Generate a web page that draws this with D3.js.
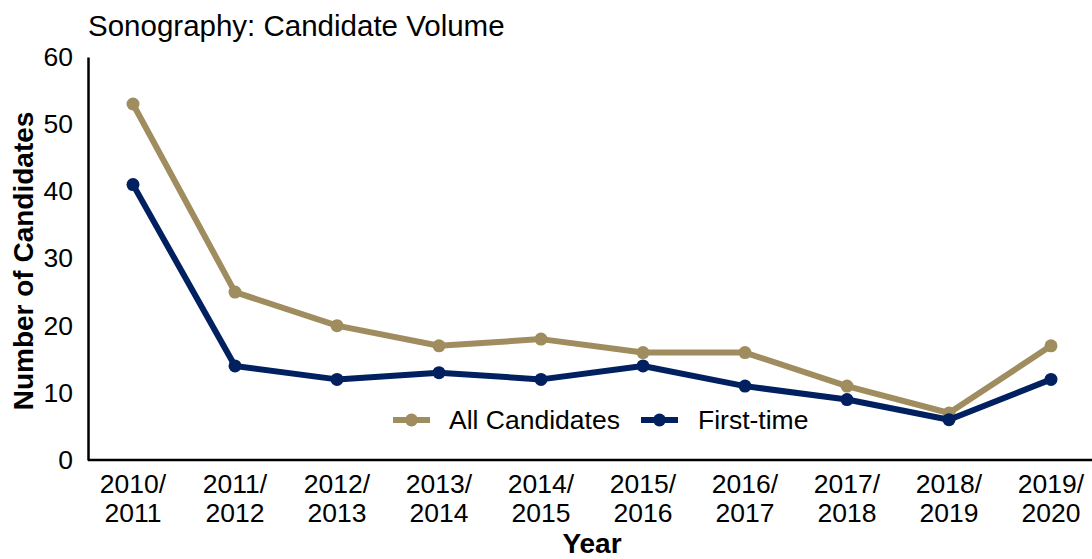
<!DOCTYPE html>
<html><head><meta charset="utf-8">
<script src="https://cdn.jsdelivr.net/npm/d3@7"></script>
<style>body{margin:0;background:#fff}svg{display:block;font-family:"Liberation Sans",Arial,sans-serif}</style>
</head><body><div id="chart"></div>
<script>
const categories = ["2010/2011","2011/2012","2012/2013","2013/2014","2014/2015","2015/2016","2016/2017","2017/2018","2018/2019","2019/2020"];
const allCandidates = [53,25,20,17,18,16,16,11,7,17];
const firstTime = [41,14,12,13,12,14,11,9,6,12];
const yTicks = [0,10,20,30,40,50,60];
const seriesNames = ["All Candidates","First-time"];
const colors = ["#a08d5f","#002060"];

const W=1092,H=559;
const svg=d3.select("#chart").append("svg").attr("width",W).attr("height",H);
const x=d3.scaleBand().domain(categories).range([82,1102]).padding(0);
const y=d3.scaleLinear().domain([0,60]).range([460,57]);
const cx=c=>x(c)+x.bandwidth()/2;

svg.append("text").attr("x",88).attr("y",36).attr("font-size",29.5).attr("fill","#000").text("Sonography: Candidate Volume");

// y axis
const ya=svg.append("g").attr("transform","translate(88,0)").call(d3.axisLeft(y).tickValues(yTicks).tickSize(0).tickPadding(15));
ya.select(".domain").attr("stroke","#000").attr("stroke-width",2.5);
ya.selectAll("text").attr("font-size",26.5).attr("fill","#000").attr("font-family","Liberation Sans, Arial, sans-serif");

// x axis
const xa=svg.append("g").attr("transform","translate(0,460)").call(d3.axisBottom(x).tickSize(0).tickPadding(0).tickFormat(""));
xa.select(".domain").attr("stroke","#000").attr("stroke-width",2.5).attr("d","M88,0H1092");
xa.selectAll(".tick").each(function(d){
  const parts=d.split("/");
  const t=d3.select(this).append("text").attr("fill","#000").attr("font-size",26.5).attr("text-anchor","middle").attr("font-family","Liberation Sans, Arial, sans-serif");
  t.append("tspan").attr("x",0).attr("y",33).text(parts[0]+"/");
  t.append("tspan").attr("x",0).attr("y",62).text(parts[1]);
});

svg.append("text").attr("transform","translate(33,261) rotate(-90)").attr("text-anchor","middle").attr("font-size",28).attr("font-weight","bold").text("Number of Candidates");
svg.append("text").attr("x",592).attr("y",553).attr("text-anchor","middle").attr("font-size",28).attr("font-weight","bold").text("Year");

const data=[allCandidates,firstTime];
const line=d3.line().x((d,i)=>cx(categories[i])).y(d=>y(d));
data.forEach((s,k)=>{
  svg.append("path").datum(s).attr("d",line).attr("fill","none").attr("stroke",colors[k]).attr("stroke-width",6).attr("stroke-linejoin","round");
  svg.selectAll(null).data(s).enter().append("circle").attr("cx",(d,i)=>cx(categories[i])).attr("cy",d=>y(d)).attr("r",6.5).attr("fill",colors[k]);
});

// legend
const leg=[{x:393,tx:449},{x:641,tx:698}];
seriesNames.forEach((n,k)=>{
  const g=svg.append("g");
  g.append("line").attr("x1",leg[k].x).attr("x2",leg[k].x+37).attr("y1",420).attr("y2",420).attr("stroke",colors[k]).attr("stroke-width",6);
  g.append("circle").attr("cx",leg[k].x+18.5).attr("cy",420).attr("r",6.5).attr("fill",colors[k]);
  g.append("text").attr("x",leg[k].tx).attr("y",429).attr("font-size",26.5).attr("fill","#000").text(n);
});
</script></body></html>
